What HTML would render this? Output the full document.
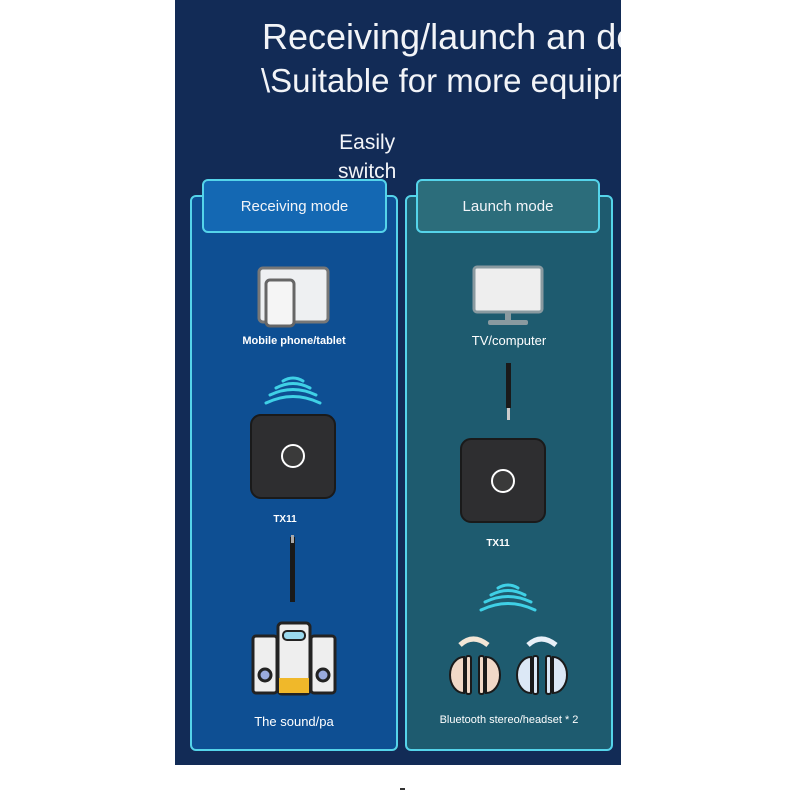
<!DOCTYPE html>
<html><head><meta charset="utf-8"><style>
html,body{margin:0;padding:0;background:#fff;}
body{width:800px;height:800px;position:relative;overflow:hidden;font-family:"Liberation Sans",sans-serif;}
#panel{position:absolute;left:175px;top:0;width:446px;height:765px;background:#122b56;overflow:hidden;}
.t{position:absolute;color:#f2f4f8;white-space:nowrap;}
.box{position:absolute;border:2px solid #55d4ea;border-radius:6px;box-sizing:border-box;}
.lbl{position:absolute;color:#fff;font-size:11px;font-weight:bold;text-align:center;white-space:nowrap;}
</style></head><body>
<div id="panel">
  <div class="t" style="left:87px;top:16px;font-size:36px;">Receiving/launch an device</div>
  <div class="t" style="left:86px;top:62px;font-size:33px;">\Suitable for more equipment</div>
  <div class="t" style="left:163px;top:128px;font-size:21px;text-align:center;line-height:29px;">Easily<br>switch</div>
</div>
<div class="box" style="left:190px;top:195px;width:208px;height:556px;background:#0e4f93;"></div>
<div class="box" style="left:405px;top:195px;width:208px;height:556px;background:#1e5b6f;"></div>
<div class="box" style="left:202px;top:179px;width:185px;height:54px;background:#1468b3;"></div>
<div class="box" style="left:416px;top:179px;width:184px;height:54px;background:#2c6d7b;"></div>
<div class="t" style="left:202px;top:198px;width:185px;text-align:center;font-size:15px;">Receiving mode</div>
<div class="t" style="left:416px;top:198px;width:184px;text-align:center;font-size:15px;">Launch mode</div>

<svg width="800" height="800" style="position:absolute;left:0;top:0">
  <rect x="259" y="268" width="69" height="54" rx="4" fill="#eef0f2" stroke="#777" stroke-width="3"/>
  <rect x="266" y="280" width="28" height="46" rx="4" fill="#f5f5f5" stroke="#666" stroke-width="3"/>
  <rect x="474" y="267" width="68" height="45" rx="3" fill="#eee" stroke="#8a9aa0" stroke-width="3"/>
  <rect x="505" y="312" width="6" height="9" fill="#8a9aa0"/>
  <rect x="488" y="320" width="40" height="5" rx="2" fill="#8a9aa0"/>
  <g fill="none" stroke="#3fd0e6" stroke-width="3" stroke-linecap="round">
    <path d="M266 403 Q293 390 320 403"/><path d="M270 395 Q293 384 316 395"/><path d="M276 388 Q293 379 310 388"/><path d="M283 381 Q293 375 303 381"/>
    <path d="M481 610 Q508 597 535 610"/><path d="M485 602 Q508 591 531 602"/><path d="M491 595 Q508 586 525 595"/><path d="M498 588 Q508 582 518 588"/>
  </g>
  <rect x="251" y="415" width="84" height="83" rx="10" fill="#2e2e30" stroke="#1a1a1a" stroke-width="2"/>
  <circle cx="293" cy="456" r="11" fill="#3a3a3a" stroke="#fff" stroke-width="2"/>
  <rect x="461" y="439" width="84" height="83" rx="10" fill="#2e2e30" stroke="#1a1a1a" stroke-width="2"/>
  <circle cx="503" cy="481" r="11" fill="#3a3a3a" stroke="#fff" stroke-width="2"/>
  <rect x="290" y="537" width="5" height="65" fill="#1a1a1a"/><rect x="291" y="535" width="3" height="8" fill="#aaa"/>
  <rect x="506" y="363" width="5" height="45" fill="#1a1a1a"/><rect x="507" y="408" width="3" height="12" fill="#ccc"/>
  <rect x="253" y="636" width="24" height="57" rx="3" fill="#eee" stroke="#222" stroke-width="3"/>
  <rect x="311" y="636" width="24" height="57" rx="3" fill="#eee" stroke="#222" stroke-width="3"/>
  <rect x="278" y="623" width="32" height="71" rx="4" fill="#eee" stroke="#222" stroke-width="3"/>
  <rect x="279" y="678" width="30" height="15" fill="#f0b82a"/>
  <rect x="283" y="631" width="22" height="9" rx="4" fill="#9ad9ee" stroke="#222" stroke-width="2"/>
  <circle cx="265" cy="675" r="6" fill="#9ad" stroke="#222" stroke-width="3"/><circle cx="323" cy="675" r="6" fill="#9ad" stroke="#222" stroke-width="3"/>
  <g stroke="#1a1a1a" stroke-width="2">
    <path d="M460 645 Q473 633 488 645" stroke="#f3e6d6" stroke-width="5" fill="none"/>
    <path d="M528 645 Q541 633 556 645" stroke="#e8f0f8" stroke-width="5" fill="none"/>
    <path d="M464 657 A14 18 0 0 0 464 693 Z" fill="#f1d9c8"/><rect x="466" y="656" width="5" height="38" rx="2" fill="#f1d9c8"/>
    <path d="M486 657 A14 18 0 0 1 486 693 Z" fill="#f1d9c8"/><rect x="479" y="656" width="5" height="38" rx="2" fill="#f1d9c8"/>
    <path d="M531 657 A14 18 0 0 0 531 693 Z" fill="#dce8f6"/><rect x="533" y="656" width="5" height="38" rx="2" fill="#dce8f6"/>
    <path d="M553 657 A14 18 0 0 1 553 693 Z" fill="#dce8f6"/><rect x="546" y="656" width="5" height="38" rx="2" fill="#dce8f6"/>
  </g>
</svg>
<div class="lbl" style="left:190px;top:335px;width:208px;">Mobile phone/tablet</div>
<div class="lbl" style="left:405px;top:333px;width:208px;font-size:13px;font-weight:normal;">TV/computer</div>
<div class="lbl" style="left:270px;top:514px;width:30px;font-size:10px;">TX11</div>
<div class="lbl" style="left:483px;top:538px;width:30px;font-size:10px;">TX11</div>
<div class="lbl" style="left:190px;top:714px;width:208px;font-size:13px;font-weight:normal;">The sound/pa</div>
<div class="lbl" style="left:405px;top:714px;width:208px;font-size:11px;font-weight:normal;">Bluetooth stereo/headset * 2</div>
<div style="position:absolute;left:400px;top:788px;width:5px;height:2px;background:#333;"></div>
</body></html>
